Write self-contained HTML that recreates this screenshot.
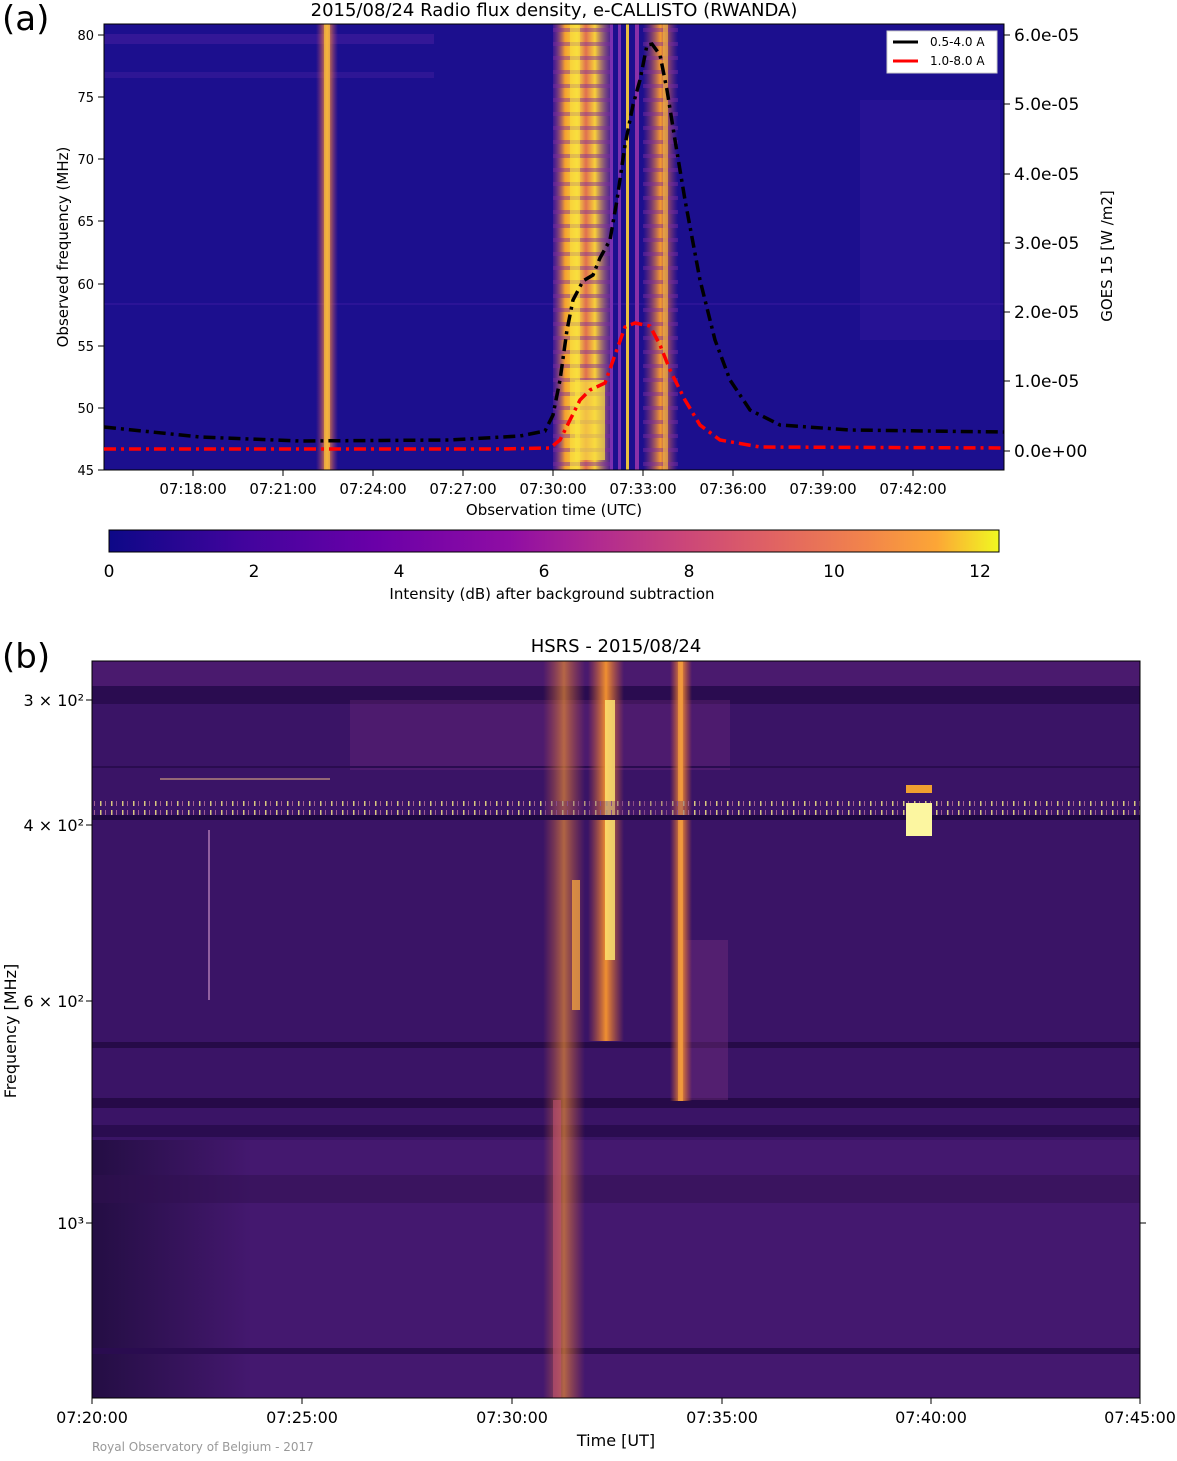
<!DOCTYPE html>
<html><head><meta charset="utf-8"><style>
body{margin:0;background:#fff;}
svg text{font-family:"DejaVu Sans","Liberation Sans",sans-serif;}
</style></head><body>
<svg width="1177" height="1456" viewBox="0 0 1177 1456" xmlns="http://www.w3.org/2000/svg">
<defs>
<linearGradient id="cb" x1="0" x2="1" y1="0" y2="0">
<stop offset="0" stop-color="#0d0887"/><stop offset="0.15" stop-color="#41049d"/><stop offset="0.3" stop-color="#6a00a8"/><stop offset="0.45" stop-color="#8f0da4"/><stop offset="0.55" stop-color="#b12a90"/><stop offset="0.65" stop-color="#cc4778"/><stop offset="0.75" stop-color="#e16462"/><stop offset="0.85" stop-color="#f2844b"/><stop offset="0.93" stop-color="#fca636"/><stop offset="1" stop-color="#f0f921"/>
</linearGradient>
<linearGradient id="yb" x1="0" x2="1"><stop offset="0" stop-color="#8a2aa0" stop-opacity="0.3"/><stop offset="0.2" stop-color="#f5a030"/><stop offset="0.4" stop-color="#f8e03a"/><stop offset="0.55" stop-color="#e07050"/><stop offset="0.7" stop-color="#f8d03a"/><stop offset="1" stop-color="#8a2aa0" stop-opacity="0.3"/></linearGradient>
<linearGradient id="ob" x1="0" x2="1"><stop offset="0" stop-color="#c04070" stop-opacity="0"/><stop offset="0.5" stop-color="#f59a30"/><stop offset="1" stop-color="#c04070" stop-opacity="0"/></linearGradient>
<linearGradient id="bo" x1="0" x2="1"><stop offset="0" stop-color="#e06030" stop-opacity="0"/><stop offset="0.5" stop-color="#f09030"/><stop offset="1" stop-color="#e06030" stop-opacity="0"/></linearGradient>
<linearGradient id="dk" x1="0" x2="1"><stop offset="0" stop-color="#0a0520" stop-opacity="0.55"/><stop offset="1" stop-color="#0a0520" stop-opacity="0"/></linearGradient>
<pattern id="dash" width="11" height="18" patternUnits="userSpaceOnUse"><rect x="1" y="0" width="1.5" height="14" fill="#d8c880"/><rect x="6" y="0" width="1" height="14" fill="#a06090"/></pattern>
<pattern id="hs" width="20" height="14" patternUnits="userSpaceOnUse"><rect x="0" y="0" width="20" height="4" fill="#7a2aa0" opacity="0.45"/></pattern>
</defs>

<!-- Panel (a) -->
<text x="2" y="30" font-size="34" fill="#000">(a)</text>
<text x="554" y="16" font-size="18" text-anchor="middle">2015/08/24  Radio flux density, e-CALLISTO (RWANDA)</text>
<rect x="104" y="24" width="900" height="446" fill="#1c0f8e"/>
<rect x="860" y="100" width="140" height="240" fill="#3a1aa0" opacity="0.35"/>
<rect x="104" y="34" width="330" height="10" fill="#4a20a0" opacity="0.5"/>
<rect x="104" y="72" width="330" height="6" fill="#4a20a0" opacity="0.4"/>
<rect x="104" y="303" width="900" height="2" fill="#3a1aa0" opacity="0.5"/>
<rect x="316" y="24" width="22" height="446" fill="url(#ob)"/>
<rect x="324" y="24" width="6" height="446" fill="#f8c040" opacity="0.7"/>
<rect x="553" y="24" width="60" height="446" fill="url(#yb)"/>
<rect x="553" y="24" width="60" height="446" fill="url(#hs)"/>
<rect x="570" y="24" width="10" height="446" fill="#fae040" opacity="0.6"/>
<rect x="575" y="380" width="30" height="80" fill="#fae040" opacity="0.7"/>
<rect x="610" y="24" width="3" height="446" fill="#7a30b0"/>
<rect x="618" y="24" width="3" height="446" fill="#7a30b0"/>
<rect x="626" y="24" width="3" height="446" fill="#e8c040"/>
<rect x="635" y="24" width="4" height="446" fill="#8a30a8"/>
<rect x="643" y="24" width="35" height="446" fill="url(#ob)"/>
<rect x="643" y="24" width="35" height="446" fill="url(#hs)"/>
<rect x="663" y="24" width="5" height="446" fill="#f2b040" opacity="0.7"/>
<rect x="104" y="24" width="900" height="446" fill="none" stroke="#000" stroke-width="1"/>

<polyline fill="none" stroke="#000" stroke-width="3.5" stroke-dasharray="12,5,3,5" points="104,427 200,437 300,441 450,440 520,436 545,431 553,415 560,380 567,330 573,300 583,281 593,275 600,258 610,240 617,200 625,145 633,105 640,80 647,45 652,44 660,55 667,90 675,140 685,200 700,280 715,340 730,380 750,410 780,425 850,430 1004,432"/>
<polyline fill="none" stroke="#f00" stroke-width="3.5" stroke-dasharray="12,5,3,5" points="104,449 500,449 550,448 560,440 570,420 580,400 590,390 605,383 615,355 625,327 635,323 650,326 660,345 670,370 685,400 700,425 720,440 760,447 1004,448"/>

<rect x="887" y="31" width="110" height="42" fill="#fff" stroke="#ccc"/>
<line x1="893" y1="42" x2="918" y2="42" stroke="#000" stroke-width="3"/>
<text x="930" y="46" font-size="12">0.5-4.0 A</text>
<line x1="893" y1="61" x2="918" y2="61" stroke="#f00" stroke-width="3"/>
<text x="930" y="65" font-size="12">1.0-8.0 A</text>

<g font-size="13" text-anchor="end">
<text x="94" y="40">80</text><text x="94" y="102">75</text><text x="94" y="164">70</text><text x="94" y="226">65</text><text x="94" y="289">60</text><text x="94" y="351">55</text><text x="94" y="413">50</text><text x="94" y="475">45</text>
</g>
<g stroke="#000"><line x1="98" y1="35" x2="104" y2="35"/><line x1="98" y1="97" x2="104" y2="97"/><line x1="98" y1="159" x2="104" y2="159"/><line x1="98" y1="221" x2="104" y2="221"/><line x1="98" y1="284" x2="104" y2="284"/><line x1="98" y1="346" x2="104" y2="346"/><line x1="98" y1="408" x2="104" y2="408"/><line x1="98" y1="470" x2="104" y2="470"/>
<line x1="1004" y1="35" x2="1010" y2="35"/><line x1="1004" y1="104" x2="1010" y2="104"/><line x1="1004" y1="174" x2="1010" y2="174"/><line x1="1004" y1="243" x2="1010" y2="243"/><line x1="1004" y1="312" x2="1010" y2="312"/><line x1="1004" y1="381" x2="1010" y2="381"/><line x1="1004" y1="451" x2="1010" y2="451"/>
<line x1="193" y1="470" x2="193" y2="476"/><line x1="283" y1="470" x2="283" y2="476"/><line x1="373" y1="470" x2="373" y2="476"/><line x1="463" y1="470" x2="463" y2="476"/><line x1="553" y1="470" x2="553" y2="476"/><line x1="643" y1="470" x2="643" y2="476"/><line x1="733" y1="470" x2="733" y2="476"/><line x1="823" y1="470" x2="823" y2="476"/><line x1="913" y1="470" x2="913" y2="476"/>
</g>
<text transform="translate(68,247) rotate(-90)" font-size="15" text-anchor="middle">Observed frequency (MHz)</text>
<g font-size="17">
<text x="1014" y="41">6.0e-05</text><text x="1014" y="110">5.0e-05</text><text x="1014" y="180">4.0e-05</text><text x="1014" y="249">3.0e-05</text><text x="1014" y="318">2.0e-05</text><text x="1014" y="387">1.0e-05</text><text x="1014" y="457">0.0e+00</text>
</g>
<text transform="translate(1112,256) rotate(-90)" font-size="15" text-anchor="middle">GOES 15  [W /m2]</text>
<g font-size="15" text-anchor="middle">
<text x="193" y="494">07:18:00</text><text x="283" y="494">07:21:00</text><text x="373" y="494">07:24:00</text><text x="463" y="494">07:27:00</text><text x="553" y="494">07:30:00</text><text x="643" y="494">07:33:00</text><text x="733" y="494">07:36:00</text><text x="823" y="494">07:39:00</text><text x="913" y="494">07:42:00</text>
</g>
<text x="554" y="515" font-size="15" text-anchor="middle">Observation time (UTC)</text>

<rect x="109" y="530" width="890" height="22" fill="url(#cb)" stroke="#000"/>
<g font-size="17" text-anchor="middle">
<text x="109" y="577">0</text><text x="254" y="577">2</text><text x="399" y="577">4</text><text x="544" y="577">6</text><text x="689" y="577">8</text><text x="834" y="577">10</text><text x="980" y="577">12</text>
</g>
<text x="552" y="599" font-size="15" text-anchor="middle">Intensity (dB) after background subtraction</text>

<!-- Panel (b) -->
<text x="2" y="668" font-size="34">(b)</text>
<text x="616" y="652" font-size="18" text-anchor="middle">HSRS - 2015/08/24</text>
<rect x="92" y="661" width="1048" height="737" fill="#3a1466"/>
<rect x="92" y="1140" width="1048" height="258" fill="#44186f"/>
<rect x="92" y="1140" width="160" height="258" fill="url(#dk)"/>
<rect x="92" y="661" width="1048" height="30" fill="#4a1a6e"/>
<rect x="92" y="686" width="1048" height="18" fill="#2a0c50"/>
<rect x="350" y="700" width="380" height="70" fill="#7a3080" opacity="0.3"/>
<rect x="92" y="766" width="1048" height="2" fill="#2a0c50"/>
<rect x="92" y="1042" width="1048" height="6" fill="#260a48"/>
<rect x="92" y="1098" width="1048" height="10" fill="#260a48"/>
<rect x="92" y="1125" width="1048" height="12" fill="#2a0c50"/>
<rect x="92" y="1175" width="1048" height="28" fill="#30104f" opacity="0.5"/>
<rect x="92" y="1348" width="1048" height="6" fill="#2a0c50"/>
<rect x="208" y="830" width="2" height="170" fill="#9060a0"/>
<rect x="680" y="940" width="48" height="160" fill="#7a3080" opacity="0.4"/>
<rect x="543" y="661" width="42" height="737" fill="url(#bo)" opacity="0.65"/>
<rect x="553" y="1100" width="8" height="298" fill="#c05070" opacity="0.6"/>
<rect x="588" y="661" width="36" height="380" fill="url(#bo)"/>
<rect x="605" y="700" width="10" height="260" fill="#fbe070" opacity="0.85"/>
<rect x="572" y="880" width="8" height="130" fill="#f0a040" opacity="0.8"/>
<rect x="670" y="661" width="22" height="440" fill="url(#bo)"/>
<rect x="678" y="661" width="5" height="440" fill="#f5a040" opacity="0.7"/>
<rect x="92" y="801" width="1048" height="14" fill="url(#dash)"/>
<rect x="545" y="801" width="140" height="14" fill="#5a2070" opacity="0.3"/>
<rect x="92" y="815" width="1048" height="5" fill="#1e0840"/>
<rect x="906" y="785" width="26" height="8" fill="#f0a030"/>
<rect x="906" y="793" width="26" height="6" fill="#3a1466"/>
<rect x="906" y="803" width="26" height="33" fill="#fcf6a0"/>
<rect x="160" y="778" width="170" height="2" fill="#d0a080" opacity="0.6"/>
<rect x="92" y="661" width="1048" height="737" fill="none" stroke="#000"/>
<g stroke="#000">
<line x1="92" y1="1398" x2="92" y2="1404"/><line x1="302" y1="1398" x2="302" y2="1404"/><line x1="512" y1="1398" x2="512" y2="1404"/><line x1="722" y1="1398" x2="722" y2="1404"/><line x1="931" y1="1398" x2="931" y2="1404"/><line x1="1140" y1="1398" x2="1140" y2="1404"/>
<line x1="86" y1="700" x2="92" y2="700"/><line x1="86" y1="825" x2="92" y2="825"/><line x1="86" y1="1001" x2="92" y2="1001"/><line x1="86" y1="1223" x2="92" y2="1223"/><line x1="1140" y1="1223" x2="1146" y2="1223"/>
</g>
<g font-size="16" text-anchor="end">
<text x="84" y="706">3 × 10²</text><text x="84" y="831">4 × 10²</text><text x="84" y="1007">6 × 10²</text><text x="84" y="1229">10³</text>
</g>
<text transform="translate(16,1031) rotate(-90)" font-size="16" text-anchor="middle">Frequency [MHz]</text>
<g font-size="16" text-anchor="middle">
<text x="92" y="1423">07:20:00</text><text x="302" y="1423">07:25:00</text><text x="512" y="1423">07:30:00</text><text x="722" y="1423">07:35:00</text><text x="931" y="1423">07:40:00</text><text x="1140" y="1423">07:45:00</text>
</g>
<text x="616" y="1446" font-size="16" text-anchor="middle">Time [UT]</text>
<text x="92" y="1451" font-size="12" fill="#999">Royal Observatory of Belgium - 2017</text>
</svg>
</body></html>
